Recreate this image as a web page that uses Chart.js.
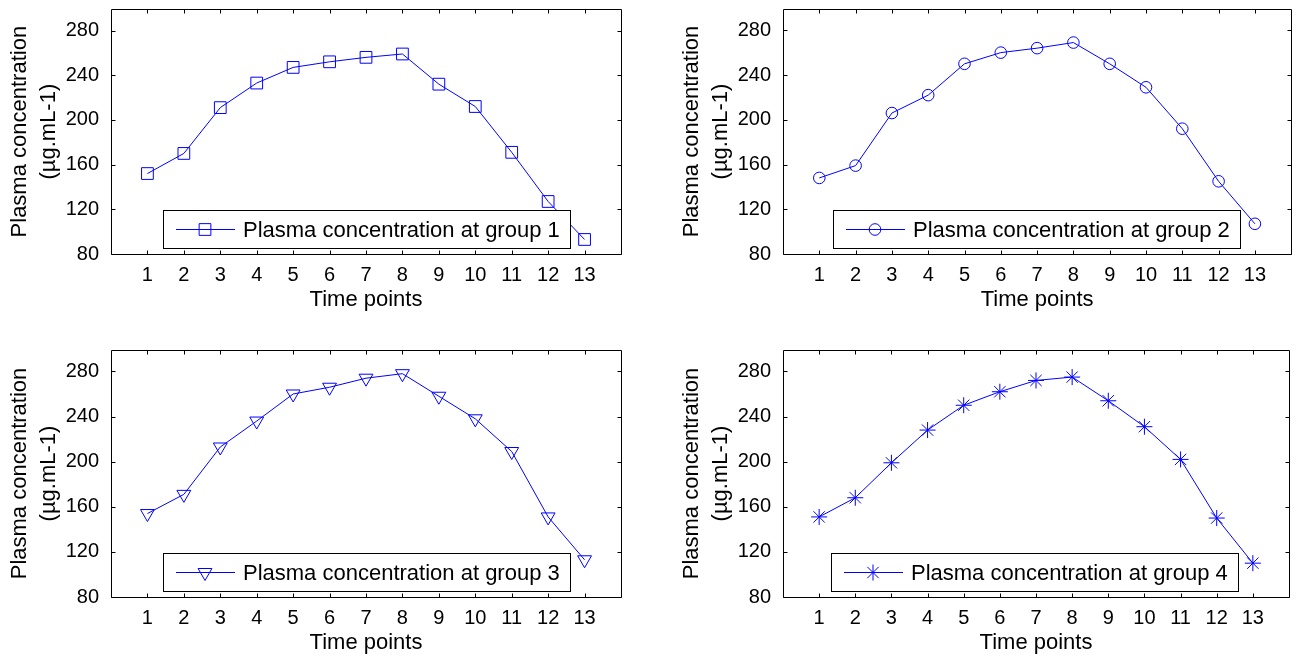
<!DOCTYPE html>
<html><head><meta charset="utf-8">
<script src="https://cdn.jsdelivr.net/npm/chart.js@4.4.0/dist/chart.umd.min.js"></script>
<style>
html,body{margin:0;padding:0;background:#fff;width:1298px;height:656px;overflow:hidden}
canvas{position:absolute}
</style></head><body>
<canvas id="c1"></canvas>
<canvas id="c2"></canvas>
<canvas id="c3"></canvas>
<canvas id="c4"></canvas>
<script>
// ---- data ----
const timePoints = [1,2,3,4,5,6,7,8,9,10,11,12,13];
const group1 = [152,170,211,233,247,252,256,259,232,212,171,127,93];
const group2 = [148,159,206,222,250,260,264,269,250,229,192,145,107];
const group3 = [154,171,213,236,260,266,274,278,258,238,209,151,113];
const group4 = [151,168,199,228,250,262,272,275,254,231,202,150,110];
const xTickValues = [1,2,3,4,5,6,7,8,9,10,11,12,13];
const yTickValues = [80,120,160,200,240,280];
const seriesLabels = ['Plasma concentration at group 1','Plasma concentration at group 2','Plasma concentration at group 3','Plasma concentration at group 4'];
const yTitle = ['Plasma concentration','(\u00b5g.mL-1)'];
const xTitle = 'Time points';

// ---- layout / style ----
const FONT = '"Liberation Sans", Arial, sans-serif';
const BLUE = '#0000ff';
const panels = [
  {id:'c1', data:group1, label:seriesLabels[0], style:'rect', radius:8.3, rot:0, left:0, top:0, w:649, h:328, a:{l:111,t:9,r:621,b:254}},
  {id:'c2', data:group2, label:seriesLabels[1], style:'circle', radius:5.8, rot:0, left:649, top:0, w:649, h:328, a:{l:134,t:9,r:643,b:254}},
  {id:'c3', data:group3, label:seriesLabels[2], style:'triangle', radius:8, rot:180, left:0, top:328, w:649, h:328, a:{l:111,t:22,r:621,b:269}},
  {id:'c4', data:group4, label:seriesLabels[3], style:'star', radius:8, rot:0, left:649, top:328, w:649, h:328, a:{l:134,t:22,r:643,b:269}}
];

const boxTicks = {
  id:'boxTicks',
  afterDraw(chart){
    const {ctx, chartArea:a, scales:{x,y}} = chart;
    const L = 4;
    ctx.save();
    ctx.strokeStyle = '#000'; ctx.lineWidth = 1;
    const l = Math.round(a.left)+0.5, r = Math.round(a.right)+0.5, t = Math.round(a.top)+0.5, b = Math.round(a.bottom)+0.5;
    ctx.beginPath();
    ctx.rect(l, t, r-l, b-t);
    x.ticks.forEach(tk=>{
      const px = Math.round(x.getPixelForValue(tk.value))+0.5;
      ctx.moveTo(px,b); ctx.lineTo(px,b-L);
      ctx.moveTo(px,t); ctx.lineTo(px,t+L);
    });
    y.ticks.forEach(tk=>{
      const py = Math.round(y.getPixelForValue(tk.value))+0.5;
      ctx.moveTo(l,py); ctx.lineTo(l+L,py);
      ctx.moveTo(r,py); ctx.lineTo(r-L,py);
    });
    ctx.stroke();
    ctx.restore();
  }
};

const insideLegend = {
  id:'insideLegend',
  afterDatasetsDraw(chart){
    const {ctx, chartArea:a} = chart;
    const ds = chart.data.datasets[0];
    const w = 407, h = 38;
    const x = Math.round(a.right - 51 - w), y = Math.round(a.bottom - 6 - h);
    ctx.save();
    ctx.fillStyle = '#fff'; ctx.fillRect(x, y, w, h);
    ctx.strokeStyle = '#000'; ctx.lineWidth = 1; ctx.strokeRect(x+0.5, y+0.5, w, h);
    const cy = y + h/2 + 0.5;
    ctx.strokeStyle = ds.borderColor; ctx.lineWidth = ds.borderWidth;
    ctx.beginPath(); ctx.moveTo(x+13, cy); ctx.lineTo(x+72, cy); ctx.stroke();
    ctx.fillStyle = 'rgba(0,0,0,0)';
    ctx.strokeStyle = ds.pointBorderColor;
    ctx.lineWidth = ds.pointBorderWidth;
    Chart.helpers.drawPoint(ctx, {pointStyle: ds.pointStyle, rotation: ds.pointRotation, radius: ds.pointRadius, borderWidth: ds.pointBorderWidth}, x+42, cy);
    ctx.fillStyle = '#000';
    ctx.font = '22px ' + FONT;
    ctx.textBaseline = 'middle';
    ctx.textAlign = 'left';
    ctx.fillText(ds.label, x+80, cy+1);
    ctx.restore();
  }
};

panels.forEach(p=>{
  const cv = document.getElementById(p.id);
  cv.width = p.w; cv.height = p.h;
  cv.style.left = p.left+'px'; cv.style.top = p.top+'px';
  cv.style.width = p.w+'px'; cv.style.height = p.h+'px';
  const titleLH = 29;
  new Chart(cv, {
    type:'line',
    data:{
      datasets:[{
        label:p.label,
        data: timePoints.map((t,i)=>({x:t, y:p.data[i]})),
        borderColor:BLUE, borderWidth:1, tension:0,
        pointStyle:p.style, pointRadius:p.radius, pointRotation:p.rot,
        pointBorderColor:BLUE, pointBackgroundColor:'rgba(0,0,0,0)', pointBorderWidth:1,
        fill:false
      }]
    },
    options:{
      responsive:false, animation:false, devicePixelRatio:1,
      layout:{padding:{left:0, top:p.a.t, right:p.w - p.a.r, bottom:0}},
      plugins:{legend:{display:false}, tooltip:{enabled:false}},
      scales:{
        x:{
          type:'linear', min:0, max:14,
          grid:{display:false, drawTicks:false}, border:{display:false},
          afterBuildTicks:(s)=>{ s.ticks = xTickValues.map(v=>({value:v})); },
          afterFit:(s)=>{ s.height = p.h - p.a.b; s.paddingLeft = 0; s.paddingRight = 0; s.paddingTop = 0; s.paddingBottom = 0; },
          ticks:{autoSkip:false, maxRotation:0, padding:9, color:'#000', font:{family:FONT, size:20}},
          title:{display:true, text:xTitle, color:'#000', font:{family:FONT, size:22, lineHeight:1.2},
                 padding:{top:0, bottom:(p.h - p.a.b - 46) - 13}}
        },
        y:{
          type:'linear', min:80, max:299,
          grid:{display:false, drawTicks:false}, border:{display:false},
          afterBuildTicks:(s)=>{ s.ticks = yTickValues.map(v=>({value:v})); },
          afterFit:(s)=>{ s.width = p.a.l; s.paddingLeft = 0; s.paddingRight = 0; s.paddingTop = 0; s.paddingBottom = 0; },
          ticks:{padding:12, color:'#000', font:{family:FONT, size:20}},
          title:{display:true, text:yTitle, color:'#000', font:{family:FONT, size:22, lineHeight:titleLH/22},
                 padding:{top:(p.a.l - 91) - titleLH/2, bottom:0}}
        }
      }
    },
    plugins:[insideLegend, boxTicks]
  });
});
</script>
</body></html>
